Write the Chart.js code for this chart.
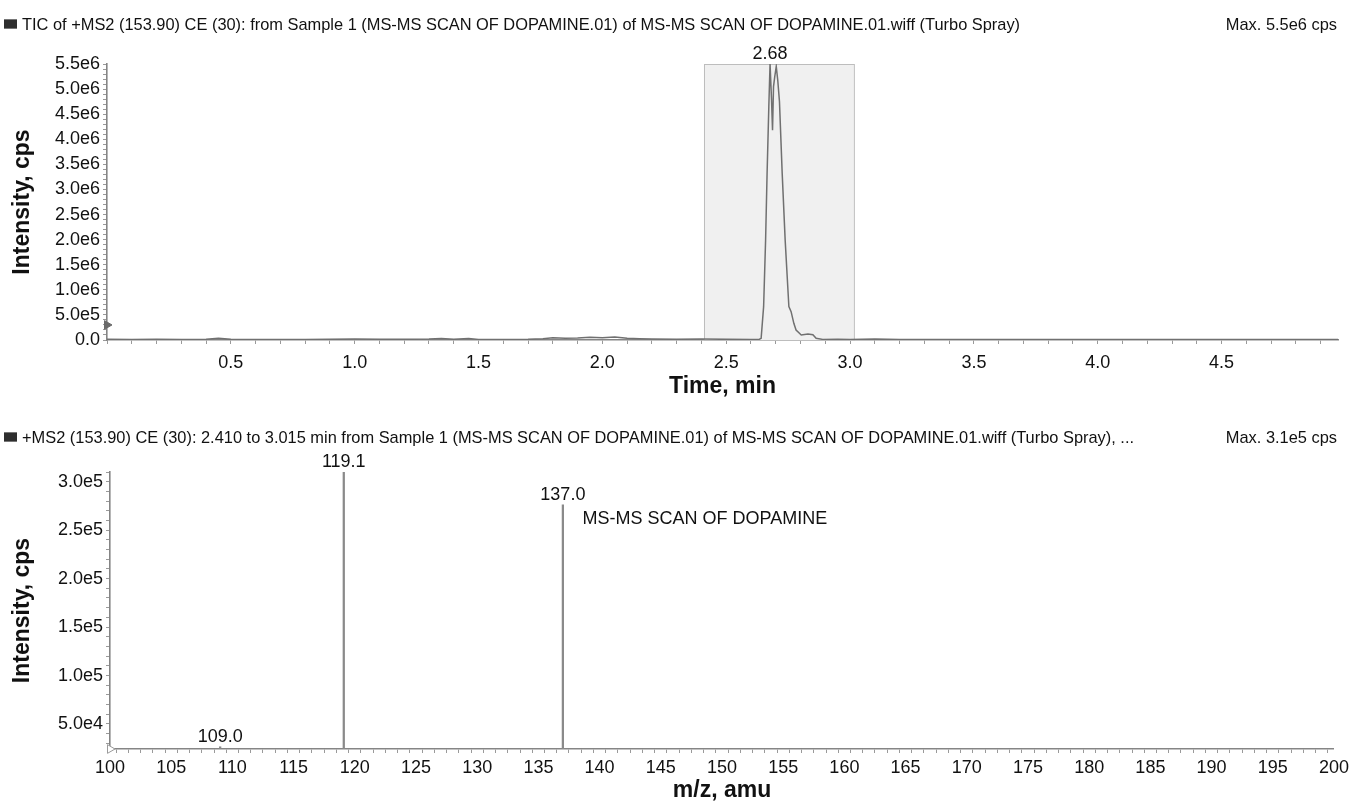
<!DOCTYPE html>
<html>
<head>
<meta charset="utf-8">
<title>TIC and MS2 spectrum of dopamine</title>
<script src="https://cdn.jsdelivr.net/npm/chart.js@4.4.1/dist/chart.umd.min.js"></script>
<style>
  html, body { margin: 0; padding: 0; background: #fff; }
  body { width: 1353px; height: 802px; position: relative; overflow: hidden;
         font-family: "Liberation Sans", Arial, sans-serif; color: #111; }
  canvas { position: absolute; left: 0; }
  .hdr { position: absolute; left: 22px; right: 16px; font-size: 16.4px; line-height: 20px;
         white-space: nowrap; z-index: 2; }
  .hdr .ico { position: absolute; left: -18px; top: 5px; width: 13px; height: 10px;
              background: #2e2e2e; border-top: 1px solid #777; border-bottom: 1px solid #777;
              box-sizing: border-box; }
  .hdr .max { position: absolute; right: 0; top: 0; }
</style>
</head>
<body>
<canvas id="ticChart" width="1353" height="400" style="top:0"></canvas>
<canvas id="msChart" width="1353" height="402" style="top:400px"></canvas>

<div class="hdr" style="top:14px">
  <span class="ico"></span>TIC of +MS2 (153.90) CE (30): from Sample 1 (MS-MS SCAN OF DOPAMINE.01) of MS-MS SCAN OF DOPAMINE.01.wiff (Turbo Spray)
  <span class="max">Max. 5.5e6 cps</span>
</div>
<div class="hdr" style="top:427px">
  <span class="ico"></span>+MS2 (153.90) CE (30): 2.410 to 3.015 min from Sample 1 (MS-MS SCAN OF DOPAMINE.01) of MS-MS SCAN OF DOPAMINE.01.wiff (Turbo Spray), ...
  <span class="max">Max. 3.1e5 cps</span>
</div>

<script>
'use strict';

// TIC trace, time in min, intensity in cps
const ticTime = [
  0.00, 0.10, 0.20, 0.30, 0.40, 0.45, 0.50, 0.60, 0.70, 0.80, 0.90,
  1.00, 1.10, 1.20, 1.30, 1.35, 1.40, 1.46, 1.50, 1.60, 1.70, 1.76,
  1.80, 1.85, 1.90, 1.95, 2.00, 2.05, 2.10, 2.15, 2.20, 2.30, 2.40,
  2.50, 2.60, 2.634,
  2.641, 2.651, 2.659, 2.665, 2.672, 2.677, 2.683, 2.687, 2.691, 2.696,
  2.702, 2.708, 2.715, 2.726, 2.738, 2.753, 2.762, 2.773, 2.782, 2.803,
  2.830, 2.850, 2.863, 2.890,
  2.95, 3.00, 3.10, 3.20, 3.30, 3.40, 3.50, 3.60, 3.70, 3.80, 3.90,
  4.00, 4.10, 4.20, 4.30, 4.40, 4.50, 4.60, 4.70, 4.80, 4.90, 4.97
];
const ticIntensity = [
  15000, 12000, 14000, 11000, 16000, 35000, 13000, 10000, 12000, 11000, 13000,
  18000, 15000, 13000, 20000, 30000, 14000, 30000, 12000, 11000, 13000, 25000,
  45000, 35000, 40000, 55000, 45000, 60000, 35000, 25000, 20000, 15000, 18000,
  14000, 12000, 15000,
  33000, 664000, 1990000, 3320000, 4650000, 5500000, 4780000, 4180000, 5050000, 5250000,
  5450000, 5180000, 4750000, 3320000, 1990000, 664000, 565000, 332000, 200000, 100000,
  120000, 106000, 33000, 12000,
  15000, 12000, 20000, 12000, 10000, 12000, 11000, 10000, 12000, 10000, 11000,
  12000, 10000, 11000, 10000, 12000, 10000, 11000, 10000, 12000, 10000, 10000
];
const xicWindow = [2.410, 3.015];
const ticMarker = [{ x: 0, y: 300000 }];

// MS2 spectrum, m/z in amu, intensity in cps
const msMz = [109.0, 119.1, 137.0];
const msIntensity = [26500, 310000, 276000];
const msMarker = [{ x: 100, y: 24200 }];
const sampleNote = { x: 138.6, y: 261000, text: 'MS-MS SCAN OF DOPAMINE' };

const FONT = '"Liberation Sans", Arial, sans-serif';

function fmtSci(v) {
  return v === 0 ? '0.0' : v.toExponential(1).replace('+', '');
}

// shaded extraction window behind the trace
const windowPlugin = {
  id: 'xicWindow',
  beforeDatasetsDraw(chart) {
    const {ctx, chartArea} = chart;
    const x0 = chart.scales.x.getPixelForValue(xicWindow[0]);
    const x1 = chart.scales.x.getPixelForValue(xicWindow[1]);
    ctx.save();
    ctx.fillStyle = '#f0f0f0';
    ctx.fillRect(x0, chartArea.top, x1 - x0, chartArea.bottom - chartArea.top);
    ctx.strokeStyle = '#bdbdbd';
    ctx.lineWidth = 1;
    ctx.strokeRect(Math.round(x0) + 0.5, chartArea.top + 0.5, x1 - x0, chartArea.bottom - chartArea.top);
    ctx.restore();
  }
};

function labelPlugin(items) {
  return {
    id: 'peakLabels',
    afterDatasetsDraw(chart) {
      const {ctx} = chart;
      const xs = chart.scales.x, ys = chart.scales.y;
      ctx.save();
      ctx.font = '18px ' + FONT;
      ctx.fillStyle = '#111';
      items.forEach(it => {
        ctx.textAlign = it.align || 'center';
        ctx.textBaseline = it.baseline || 'bottom';
        ctx.fillText(it.text, xs.getPixelForValue(it.x) + (it.dx || 0), ys.getPixelForValue(it.y) - (it.dy || 0));
      });
      ctx.restore();
    }
  };
}

function axisGrid() {
  return { display: true, drawOnChartArea: false, drawTicks: true, tickLength: 4, color: '#9a9a9a' };
}
function axisBorder() {
  return { display: true, color: '#858585', width: 1.6 };
}
function axisTitle(text, pad, lh) {
  return { display: true, text: text, color: '#111', padding: pad,
           font: { family: FONT, size: 23, weight: 'bold', lineHeight: lh } };
}
function tickFont() {
  return { family: FONT, size: 18 };
}

// ---- TIC chart ----
let apex = 0;
for (let i = 1; i < ticIntensity.length; i++) {
  if (ticIntensity[i] > ticIntensity[apex]) apex = i;
}

new Chart(document.getElementById('ticChart').getContext('2d'), {
  type: 'line',
  data: {
    datasets: [
      {
        data: ticTime.map((t, i) => ({ x: t, y: ticIntensity[i] })),
        borderColor: '#707070',
        borderWidth: 1.5,
        pointRadius: 0,
        tension: 0,
        fill: false
      },
      {
        type: 'scatter',
        data: ticMarker,
        pointStyle: 'triangle',
        rotation: 90,
        radius: 5,
        backgroundColor: '#6a6a6a',
        borderColor: '#6a6a6a',
        clip: false
      }
    ]
  },
  options: {
    responsive: false,
    animation: false,
    events: [],
    layout: { padding: { top: 64, right: 15, left: 0, bottom: 0 } },
    plugins: { legend: { display: false }, tooltip: { enabled: false } },
    scales: {
      x: {
        type: 'linear', min: 0, max: 4.97,
        grid: axisGrid(), border: axisBorder(),
        afterFit(s) { s.height = 60; },
        afterBuildTicks(s) {
          s.ticks = [];
          for (let i = 0; i <= 49; i++) s.ticks.push({ value: i / 10 });
        },
        ticks: {
          autoSkip: false, maxRotation: 0, padding: 8, color: '#111', font: tickFont(),
          callback(v) {
            const k = Math.round(v * 10);
            return (k > 0 && k % 5 === 0) ? (k / 10).toFixed(1) : '';
          }
        },
        title: axisTitle('Time, min', { top: 0, bottom: 0 }, 1.2)
      },
      y: {
        type: 'linear', min: 0, max: 5.5e6,
        grid: axisGrid(), border: axisBorder(),
        afterFit(s) { s.width = 107; },
        afterBuildTicks(s) {
          s.ticks = [];
          for (let i = 0; i <= 55; i++) s.ticks.push({ value: i * 1e5 });
        },
        ticks: {
          autoSkip: false, padding: 3, color: '#111', font: tickFont(),
          callback(v) {
            const k = Math.round(v / 1e5);
            return k % 5 === 0 ? fmtSci(v) : '';
          }
        },
        title: axisTitle('Intensity, cps', { top: 9, bottom: 0 }, 1.2)
      }
    }
  },
  plugins: [windowPlugin, labelPlugin([
    { x: ticTime[apex], y: ticIntensity[apex], text: ticTime[apex].toFixed(2), dy: 1 }
  ])]
});

// ---- MS2 spectrum ----
const msLabels = msMz.map((m, i) => ({ x: m, y: msIntensity[i], text: m.toFixed(1), dy: 1 }));
msLabels.push({ x: sampleNote.x, y: sampleNote.y, text: sampleNote.text, align: 'left', baseline: 'middle' });

new Chart(document.getElementById('msChart').getContext('2d'), {
  type: 'bar',
  data: {
    datasets: [
      {
        data: msMz.map((m, i) => ({ x: m, y: msIntensity[i] })),
        backgroundColor: '#8a8a8a',
        borderWidth: 0,
        barThickness: 1.6,
        grouped: false
      },
      {
        type: 'scatter',
        data: msMarker,
        pointStyle: 'triangle',
        rotation: 90,
        radius: 5,
        backgroundColor: '#ffffff',
        borderColor: '#9a9a9a',
        borderWidth: 1,
        clip: false
      }
    ]
  },
  options: {
    responsive: false,
    animation: false,
    events: [],
    layout: { padding: { top: 72, right: 15, left: 0, bottom: 0 } },
    plugins: { legend: { display: false }, tooltip: { enabled: false } },
    scales: {
      x: {
        type: 'linear', min: 100, max: 200, offset: false,
        grid: axisGrid(), border: axisBorder(),
        afterFit(s) { s.height = 53; },
        afterBuildTicks(s) {
          s.ticks = [];
          for (let i = 100; i <= 200; i++) s.ticks.push({ value: i });
        },
        ticks: {
          autoSkip: false, maxRotation: 0, padding: 4, color: '#111', font: tickFont(),
          callback(v) {
            const k = Math.round(v);
            return k % 5 === 0 ? String(k) : '';
          }
        },
        title: axisTitle('m/z, amu', { top: 0, bottom: 0 }, 1.0)
      },
      y: {
        type: 'linear', min: 24200, max: 310000,
        grid: axisGrid(), border: axisBorder(),
        afterFit(s) { s.width = 110; },
        afterBuildTicks(s) {
          s.ticks = [];
          for (let i = 3; i <= 31; i++) s.ticks.push({ value: i * 1e4 });
        },
        ticks: {
          autoSkip: false, padding: 3, color: '#111', font: tickFont(),
          callback(v) {
            const k = Math.round(v / 1e4);
            return k % 5 === 0 ? fmtSci(v) : '';
          }
        },
        title: axisTitle('Intensity, cps', { top: 9, bottom: 0 }, 1.2)
      }
    }
  },
  plugins: [labelPlugin(msLabels)]
});
</script>
</body>
</html>
